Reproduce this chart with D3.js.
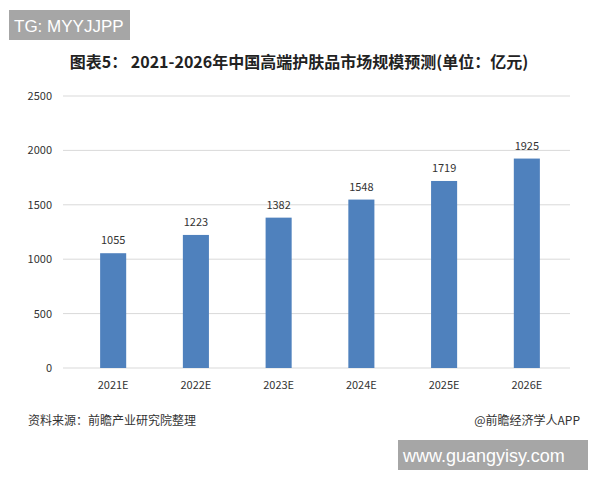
<!DOCTYPE html>
<html><head><meta charset="utf-8">
<script src="https://cdn.jsdelivr.net/npm/d3@7"></script>
<style>body{margin:0;background:#fff}</style>
</head><body>
<svg id="chart" width="600" height="480"></svg>
<script>
var years = ['2021E', '2022E', '2023E', '2024E', '2025E', '2026E'];
var values = [1055, 1223, 1382, 1548, 1719, 1925];
var yTicks = [0, 500, 1000, 1500, 2000, 2500];

var svg = d3.select('#chart');
var font = '"Noto Sans CJK SC", sans-serif';

// plot area
var x = d3.scaleBand().domain(years).range([72, 568]).paddingInner(0.685).paddingOuter(0.34);
var y = d3.scaleLinear().domain([0, 2500]).range([368, 96]);

svg.append('text').attr('x', 299).attr('y', 68).attr('text-anchor', 'middle')
  .attr('font-family', font).attr('font-size', 16).attr('font-weight', 'bold').attr('fill', '#222')
  .text('图表5： 2021-2026年中国高端护肤品市场规模预测(单位：亿元)');

// gridlines
svg.append('g').selectAll('line').data(yTicks).enter().append('line')
  .attr('x1', 63).attr('x2', 570)
  .attr('y1', function (d) { return y(d); }).attr('y2', function (d) { return y(d); })
  .attr('stroke', '#d9d9d9').attr('stroke-width', 1);

svg.append('g').selectAll('text').data(yTicks).enter().append('text')
  .attr('x', 52).attr('y', function (d) { return y(d) + 4; })
  .attr('text-anchor', 'end').attr('font-family', font).attr('font-size', 11).attr('fill', '#333')
  .text(function (d) { return d; });

svg.append('g').selectAll('rect').data(values).enter().append('rect')
  .attr('x', function (d, i) { return x(years[i]); })
  .attr('width', x.bandwidth())
  .attr('y', function (d) { return y(d); })
  .attr('height', function (d) { return y(0) - y(d); })
  .attr('fill', '#4f81bd');

svg.append('g').selectAll('text').data(values).enter().append('text')
  .attr('x', function (d, i) { return x(years[i]) + x.bandwidth() / 2; })
  .attr('y', function (d) { return y(d) - 9; })
  .attr('text-anchor', 'middle').attr('font-family', font).attr('font-size', 11).attr('fill', '#333')
  .text(function (d) { return d; });

svg.append('g').selectAll('text').data(years).enter().append('text')
  .attr('x', function (d) { return x(d) + x.bandwidth() / 2; })
  .attr('y', 389)
  .attr('text-anchor', 'middle').attr('font-family', font).attr('font-size', 11).attr('fill', '#333')
  .text(function (d) { return d; });

// footer
svg.append('text').attr('x', 28).attr('y', 425).attr('font-family', font).attr('font-size', 12)
  .attr('fill', '#333').text('资料来源：前瞻产业研究院整理');
svg.append('text').attr('x', 580).attr('y', 425).attr('text-anchor', 'end').attr('font-family', font)
  .attr('font-size', 12).attr('fill', '#333').text('@前瞻经济学人APP');

// watermark boxes
svg.append('rect').attr('x', 9).attr('y', 10).attr('width', 121).attr('height', 30).attr('fill', '#a6a6a6');
svg.append('text').attr('x', 14).attr('y', 32).attr('font-family', 'Liberation Sans, Arial, sans-serif')
  .attr('font-size', 17).attr('fill', '#fff').text('TG: MYYJJPP');
svg.append('rect').attr('x', 398).attr('y', 440).attr('width', 190).attr('height', 30).attr('fill', '#a6a6a6');
svg.append('text').attr('x', 403).attr('y', 462).attr('font-family', 'Liberation Sans, Arial, sans-serif')
  .attr('font-size', 18).attr('fill', '#fff').text('www.guangyisy.com');
</script>
</body></html>
